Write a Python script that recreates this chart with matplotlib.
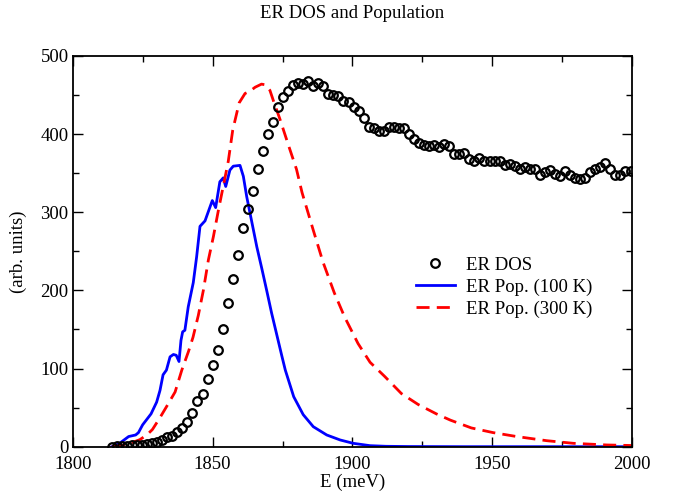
import numpy as np
import matplotlib
matplotlib.use("Agg")
import matplotlib.pyplot as plt
from matplotlib.ticker import MultipleLocator

# ER density of states, sampled every 1.8 meV from 1814 meV
dos_start = 1814.0
dos_step = 1.8
dos_values = [
    0, 0.3, 0.9, 1.3, 1.7, 2.1, 2.6, 3.5, 4.5, 6.2,
    8.9, 11.8, 14.2, 18.5, 24.5, 31, 43, 58, 67, 87,
    105, 124, 150, 184, 215, 245, 280, 304, 327, 355,
    379, 400, 416, 435, 447, 455, 463, 466, 464, 468,
    462, 465, 462, 451, 450, 449, 442, 441, 435, 429,
    420, 409, 408, 404, 404, 409, 409, 408, 408, 400,
    394, 389, 386, 385, 386, 384, 388, 385, 375, 374,
    376, 368, 366, 369, 366, 365, 366, 366, 361, 362,
    359, 356, 358, 356, 356, 348, 352, 354, 349, 347,
    353, 348, 344, 342, 344, 352, 356, 358, 363, 356,
    348, 348, 353, 353,
]
dos_energy = dos_start + dos_step * np.arange(len(dos_values))

# ER population at 100 K
pop100_energy = [
    1814, 1816, 1817, 1818.5, 1820, 1822.5, 1823.5, 1825, 1826.5, 1828,
    1830, 1831.2, 1832.3, 1833.5, 1834.8, 1836, 1837, 1838, 1838.7, 1839.3,
    1840.1, 1841.3, 1843.1, 1844.3, 1845.5, 1847.3, 1849.1, 1849.9, 1851.1, 1852.6,
    1853.8, 1854.7, 1856.2, 1857.4, 1859.8, 1861, 1862.2, 1864, 1865.8, 1867.6,
    1869.4, 1871.1, 1872.9, 1874.7, 1876, 1879, 1882.4, 1886, 1890.8, 1895.6,
    1900.3, 1906.3, 1912, 1920, 1940, 1970, 2000,
]
pop100_values = [
    0, 3, 5, 9, 13, 15, 18, 28, 35, 42,
    57, 72, 92, 98, 115, 118, 117, 109, 136, 147,
    149, 179, 210, 243, 282, 289, 307, 315, 306, 339,
    344, 333, 354, 359, 360, 346, 320, 288, 256, 228,
    199, 171, 144, 117, 98, 64, 41, 25.6, 15, 8.6,
    4.3, 1.3, 0.5, 0.2, 0, 0, 0,
]

# ER population at 300 K
pop300_energy = [
    1814, 1818, 1821, 1824, 1826.5, 1828.5, 1831, 1833.5, 1836.6, 1839,
    1841.4, 1843, 1844.9, 1846.7, 1848.5, 1850.3, 1852.1, 1853.8, 1855.6, 1857.2,
    1859.5, 1861.6, 1863.4, 1865.2, 1867.5, 1869, 1870.5, 1872, 1874, 1877.2,
    1880, 1882, 1886, 1889.5, 1893.5, 1897.2, 1902, 1906.3, 1911.5, 1917.5,
    1923.5, 1930, 1935, 1942.5, 1950.3, 1958.7, 1969.4, 1979, 1990.9, 2000,
]
pop300_values = [
    0, 2, 5, 9, 15, 22, 36, 51, 70, 98,
    122, 140, 168, 200, 239, 269, 303, 333, 365, 405,
    440, 452, 455, 460, 464, 463, 456, 440, 420, 385,
    355, 325, 277, 236, 197, 166, 132, 108, 90, 68,
    54, 42, 34, 24, 18, 13, 7.7, 4.3, 2.2, 1.5,
]

plt.rcParams["font.family"] = ["Liberation Serif", "DejaVu Serif"]

fig = plt.figure(figsize=(6.77, 4.95), dpi=100)
ax = fig.add_axes([0.1074, 0.0976, 0.8264, 0.7893])

ax.plot(dos_energy, dos_values, linestyle="none", marker="o", markersize=6.2,
        markerfacecolor="none", markeredgecolor="black", markeredgewidth=1.6,
        label="ER DOS", zorder=3)
ax.plot(pop100_energy, pop100_values, color="#0000ff", linewidth=2.0,
        label="ER Pop. (100 K)", zorder=2)
ax.plot(pop300_energy, pop300_values, color="#ff0000", linewidth=2.0,
        linestyle=(0, (4.7, 2.6)), label="ER Pop. (300 K)", zorder=2)

ax.set_xlim(1800, 2000)
ax.set_ylim(0, 500)
ax.xaxis.set_major_locator(MultipleLocator(50))
ax.xaxis.set_minor_locator(MultipleLocator(25))
ax.yaxis.set_major_locator(MultipleLocator(100))
ax.yaxis.set_minor_locator(MultipleLocator(50))
ax.tick_params(which="both", direction="in", top=True, right=True,
               labelsize=13.5, width=1.0, color="black")
ax.tick_params(which="major", length=7)
ax.tick_params(which="minor", length=4)
ax.tick_params(axis="x", which="major", pad=7)
ax.tick_params(axis="y", which="major", pad=3)
for spine in ax.spines.values():
    spine.set_linewidth(1.3)

ax.set_xlabel("E (meV)", fontsize=13.5, labelpad=0)
ax.set_ylabel("(arb. units)", fontsize=13.5, labelpad=10)
fig.text(0.1074 + 0.8264 / 2, 1 - 13 / 495, "ER DOS and Population",
         ha="center", va="center", fontsize=13.5)

leg = ax.legend(loc="upper left", bbox_to_anchor=(0.613, 0.486), frameon=False,
                fontsize=13.5, handlelength=2.1, handletextpad=0.6,
                labelspacing=0.25, borderaxespad=0, borderpad=0)

fig.savefig("out.png", dpi=100)
